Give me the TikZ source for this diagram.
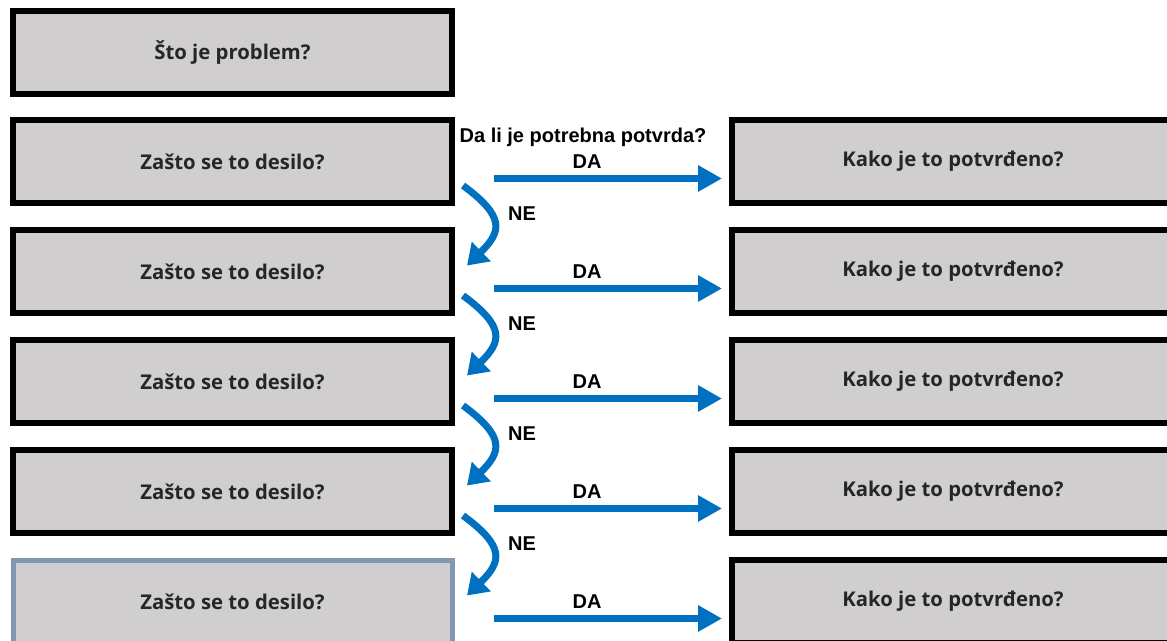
\documentclass[tikz,border=0pt]{standalone}
\usepackage{fontspec}
\setmainfont{Liberation Sans}
\newfontfamily\boxfont{Open Sans}
\usetikzlibrary{arrows.meta,calc}
\definecolor{boxfill}{HTML}{D0CECE}
\definecolor{arrowblue}{HTML}{0070C0}
\definecolor{lastborder}{HTML}{8497B0}
\definecolor{boxtext}{HTML}{262626}
\begin{document}
\begin{tikzpicture}[x=1pt,y=-1pt,
  qbox/.style={draw=black, line width=6pt, fill=boxfill, inner sep=0pt,
    minimum width=439pt, minimum height=83pt,
    font=\boxfont\bfseries\fontsize{20.3}{24}\selectfont, text=boxtext},
  abox/.style={qbox, minimum width=442pt},
  lastbox/.style={qbox, draw=lastborder, line width=5pt},
  lbl/.style={font=\bfseries\fontsize{20}{24}\selectfont, text=black, inner sep=0pt},
  daarrow/.style={draw=arrowblue, line width=7pt, -{Triangle[length=24pt,width=25pt]}},
  nearrow/.style={draw=arrowblue, line width=7pt, -{Triangle[length=20pt,width=26pt]}}
]
\useasboundingbox (0,0) rectangle (1167,640);
\clip (0,0) rectangle (1167,640);

\node[qbox] (P) at (232.5,52.5) {Što je problem?};

\foreach \k/\yy in {1/161.5,2/271.5,3/381.5,4/491.5}{
  \node[qbox] (L\k) at (232.5,\yy) {Zašto se to desilo?};
  \node[abox] (R\k) at (953,\yy) {Kako je to potvrđeno?};
}
\node[lastbox] (L5) at (232.5,601.5) {Zašto se to desilo?};
\node[abox] (R5) at (953,601.5) {Kako je to potvrđeno?};

\node[lbl] (Q) at (583,137) {Da li je potrebna potvrda?};

\foreach \k in {1,...,5}{
  \coordinate (A\k) at ($(L\k.center)+(261.5,17)$);
  \coordinate (B\k) at ($(L\k.center)+(489.5,17)$);
  \draw[daarrow] (A\k) -- (B\k);
  \node[lbl] (DA\k) at ($(L\k.center)+(354.5,0)$) {DA};
}

\foreach \k/\n in {1/2,2/3,3/4,4/5}{
  \coordinate (S\k) at ($(L\k.center)+(230.5,24)$);
  \coordinate (T\k) at ($(L\k.center)+(234.5,104)$);
  \draw[nearrow] (S\k) .. controls ($(S\k)+(42,31)$) and ($(T\k)+(35,-34)$) .. (T\k);
  \node[lbl] (NE\k) at ($(L\k.center)+(289.5,52)$) {NE};
}
\end{tikzpicture}
\end{document}
